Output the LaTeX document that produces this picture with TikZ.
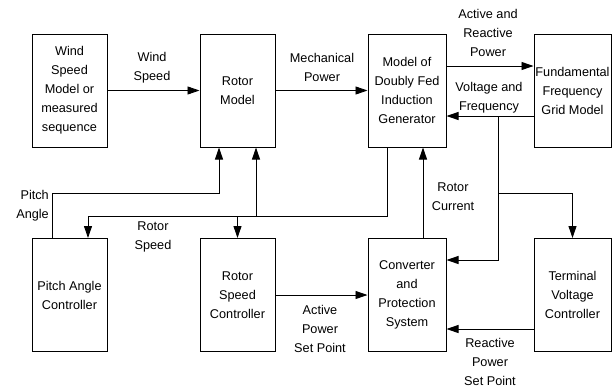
\documentclass[tikz,border=0pt]{standalone}
\usepackage{fontspec}
\setmainfont{Liberation Sans}
\usetikzlibrary{arrows.meta,calc}

\begin{document}
\begin{tikzpicture}[x=1pt,y=-1pt,
  font=\fontsize{12.7pt}{19pt}\selectfont,
  blk/.style={draw,line width=1pt,minimum width=75pt,minimum height=113pt,align=center,inner sep=0pt},
  flow/.style={line width=0.9pt,-{Triangle[length=12pt,width=8pt]}},
  wire/.style={line width=0.9pt},
  lbl/.style={align=center,inner sep=0pt}]
\useasboundingbox (0,0) rectangle (613,389);
\node[blk] (wind) at (69.5,90.5) {Wind\\Speed\\Model or\\measured\\sequence};
\node[blk] (rotor) at (237.5,90.5) {Rotor\\Model};
\node[blk,minimum width=78pt] (dfig) at (407,90.5) {Model of\\Doubly Fed\\Induction\\Generator};
\node[blk,minimum width=77pt] (grid) at (572.5,90.5) {Fundamental\\Frequency\\Grid Model};
\node[blk] (pitch) at (69.5,295) {Pitch Angle\\Controller};
\node[blk] (rsc) at (237.5,295) {Rotor\\Speed\\Controller};
\node[blk,minimum width=78pt] (conv) at (407,295) {Converter\\and\\Protection\\System};
\node[blk,minimum width=77pt] (term) at (572.5,295) {Terminal\\Voltage\\Controller};
\coordinate (vf) at (498,116);
\coordinate (vt) at (498,193);
\coordinate (rs) at (387,216);
\coordinate (rsl) at (88,216);
\coordinate (pa) at (219,193);
\draw[flow] (wind) -- (rotor);
\draw[flow] (rotor) -- (dfig);
\draw[flow] ([yshift=24.5pt]dfig.east) -- ([yshift=24.5pt]grid.west);
\draw[flow] ([yshift=-25.5pt]grid.west) -- ([yshift=-25.5pt]dfig.east);
\draw[flow] (vf) |- ([yshift=35pt]conv.east);
\draw[flow] (vt) -| (term.north);
\draw[flow] ([xshift=16pt]conv.north) -- ([xshift=16pt]dfig.south);
\draw[wire] ([xshift=-20pt]dfig.south) -- (rs) -- (rsl);
\draw[flow] (rsl) -- (rsl |- pitch.north);
\draw[flow] (rs -| rsc.north) -- (rsc.north);
\draw[flow] ($(rs -| rotor.south)+(18.5,0)$) -- ([xshift=18.5pt]rotor.south);
\draw[flow] ([xshift=-17.5pt]pitch.north) |- (pa) -- (pa |- rotor.south);
\draw[flow] (rsc) -- (conv);
\draw[flow] ([yshift=-34pt]term.west) -- ([yshift=-34pt]conv.east);
\node[lbl] (lws) at (152,67.5) {Wind\\Speed};
\node[lbl] (lmp) at (322,67) {Mechanical\\Power};
\node[lbl] (lar) at (488,33) {Active and\\Reactive\\Power};
\node[lbl] (lvf) at (489,97.5) {Voltage and\\Frequency};
\node[lbl] (lrc) at (453,197) {Rotor\\Current};
\node[lbl] (lrs) at (153,237) {Rotor\\Speed};
\node[lbl,align=right,anchor=east] (lpa) at (49,205.5) {Pitch\\Angle};
\node[lbl] (lap) at (320,329) {Active\\Power\\Set Point};
\node[lbl] (lrp) at (490,362) {Reactive\\Power\\Set Point};
\end{tikzpicture}
\end{document}
